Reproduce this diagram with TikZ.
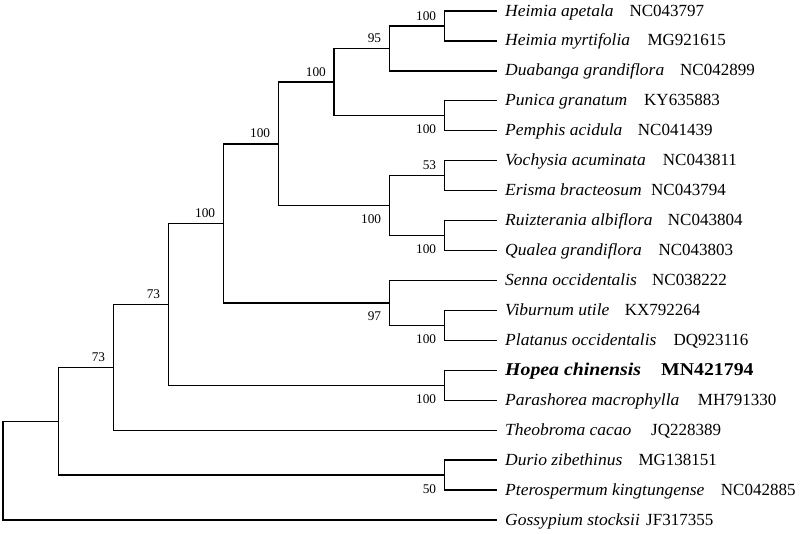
\documentclass[tikz,border=0pt]{standalone}
\usepackage{fontspec}
\setmainfont{Liberation Serif}
\newfontfamily\leafit{Liberation Serif}[FakeStretch=1.03]
\newfontfamily\hopeafont{Liberation Serif}[FakeStretch=1.1]
\begin{document}
\begin{tikzpicture}[x=1pt,y=-1pt,
  branch/.style={line width=1.3pt, line join=miter},
  leafname/.style={anchor=base west, inner sep=0pt, font=\fontsize{17}{17}\leafit\itshape},
  acc/.style={anchor=base west, inner sep=0pt, font=\fontsize{17}{17}\selectfont},
  bs/.style={anchor=base east, inner sep=0pt, font=\fontsize{13.3}{13.3}\selectfont}]
\useasboundingbox (0,0) rectangle (800,533);
% leaf tips
\coordinate (L0) at (497,11.0);
\coordinate (L1) at (497,40.9);
\coordinate (L2) at (497,70.9);
\coordinate (L3) at (497,100.8);
\coordinate (L4) at (497,130.8);
\coordinate (L5) at (497,160.7);
\coordinate (L6) at (497,190.6);
\coordinate (L7) at (497,220.6);
\coordinate (L8) at (497,250.5);
\coordinate (L9) at (497,280.5);
\coordinate (L10) at (497,310.4);
\coordinate (L11) at (497,340.3);
\coordinate (L12) at (497,370.3);
\coordinate (L13) at (497,400.2);
\coordinate (L14) at (497,430.2);
\coordinate (L15) at (497,460.1);
\coordinate (L16) at (497,490.0);
\coordinate (L17) at (497,520.0);
% internal nodes
\coordinate (hA) at (444.3,26.0);
\coordinate (n95) at (389.3,48.4);
\coordinate (pP) at (444.3,115.8);
\coordinate (n100a) at (334,82.1);
\coordinate (vE) at (444.3,175.7);
\coordinate (rQ) at (444.3,235.6);
\coordinate (vR) at (389.3,205.6);
\coordinate (n100b) at (278.3,143.9);
\coordinate (vP) at (444.3,325.4);
\coordinate (n97) at (389.3,302.9);
\coordinate (n100c) at (223.3,223.4);
\coordinate (hP) at (444.3,385.3);
\coordinate (n73a) at (168.3,304.3);
\coordinate (n73b) at (113.3,367.3);
\coordinate (dP) at (444.3,475.1);
\coordinate (n1) at (58.3,421.2);
\coordinate (root) at (3,470.6);
% branches
\draw[branch] (hA) |- (L0) (hA) |- (L1);
\draw[branch] (n95) |- (hA) (n95) |- (L2);
\draw[branch] (pP) |- (L3) (pP) |- (L4);
\draw[branch] (n100a) |- (n95) (n100a) |- (pP);
\draw[branch] (vE) |- (L5) (vE) |- (L6);
\draw[branch] (rQ) |- (L7) (rQ) |- (L8);
\draw[branch] (vR) |- (vE) (vR) |- (rQ);
\draw[branch] (n100b) |- (n100a) (n100b) |- (vR);
\draw[branch] (vP) |- (L10) (vP) |- (L11);
\draw[branch] (n97) |- (L9) (n97) |- (vP);
\draw[branch] (n100c) |- (n100b) (n100c) |- (n97);
\draw[branch] (hP) |- (L12) (hP) |- (L13);
\draw[branch] (n73a) |- (n100c) (n73a) |- (hP);
\draw[branch] (n73b) |- (n73a) (n73b) |- (L14);
\draw[branch] (dP) |- (L15) (dP) |- (L16);
\draw[branch] (n1) |- (n73b) (n1) |- (dP);
\draw[branch] (root) |- (n1) (root) |- (L17);
% bootstrap values
\node[bs] (b1) at (436.3,20.0) {100};
\node[bs] (b2) at (381.3,42.4) {95};
\node[bs] (b3) at (326,76.1) {100};
\node[bs] (b4) at (436.3,133.8) {100};
\node[bs] (b5) at (270.3,137.9) {100};
\node[bs] (b6) at (436.3,169.7) {53};
\node[bs] (b7) at (381.3,223.6) {100};
\node[bs] (b8) at (436.3,253.6) {100};
\node[bs] (b9) at (215.3,217.4) {100};
\node[bs] (b10) at (160.3,298.3) {73};
\node[bs] (b11) at (381.3,320.9) {97};
\node[bs] (b12) at (436.3,343.4) {100};
\node[bs] (b13) at (436.3,403.3) {100};
\node[bs] (b14) at (105.3,361.3) {73};
\node[bs] (b15) at (436.3,493.1) {50};
% leaf labels
\node[leafname] (t0) at (505,16.0) {Heimia apetala};
\node[acc] (a0) at (629.3,16.0) {NC043797};
\node[leafname] (t1) at (505,45.9) {Heimia myrtifolia};
\node[acc] (a1) at (647.3,45.9) {MG921615};
\node[leafname] (t2) at (505,75.9) {Duabanga grandiflora};
\node[acc] (a2) at (680,75.9) {NC042899};
\node[leafname] (t3) at (505,105.8) {Punica granatum};
\node[acc] (a3) at (644,105.8) {KY635883};
\node[leafname] (t4) at (505,135.8) {Pemphis acidula};
\node[acc] (a4) at (637.7,135.8) {NC041439};
\node[leafname] (t5) at (505,165.7) {Vochysia acuminata};
\node[acc] (a5) at (662.7,165.7) {NC043811};
\node[leafname] (t6) at (505,195.6) {Erisma bracteosum};
\node[acc] (a6) at (651,195.6) {NC043794};
\node[leafname] (t7) at (505,225.6) {Ruizterania albiflora};
\node[acc] (a7) at (667.7,225.6) {NC043804};
\node[leafname] (t8) at (505,255.5) {Qualea grandiflora};
\node[acc] (a8) at (658.3,255.5) {NC043803};
\node[leafname] (t9) at (505,285.5) {Senna occidentalis};
\node[acc] (a9) at (652,285.5) {NC038222};
\node[leafname] (t10) at (505,315.4) {Viburnum utile};
\node[acc] (a10) at (624.7,315.4) {KX792264};
\node[leafname] (t11) at (505,345.3) {Platanus occidentalis};
\node[acc] (a11) at (673.3,345.3) {DQ923116};
\node[leafname, font=\fontsize{18}{18}\hopeafont\bfseries\itshape] (t12) at (505,375.3) {Hopea chinensis};
\node[acc, font=\fontsize{18}{18}\hopeafont\bfseries] (a12) at (661,375.3) {MN421794};
\node[leafname] (t13) at (505,405.2) {Parashorea macrophylla};
\node[acc] (a13) at (697.7,405.2) {MH791330};
\node[leafname] (t14) at (505,435.2) {Theobroma cacao};
\node[acc] (a14) at (651,435.2) {JQ228389};
\node[leafname] (t15) at (505,465.1) {Durio zibethinus};
\node[acc] (a15) at (638.3,465.1) {MG138151};
\node[leafname] (t16) at (505,495.0) {Pterospermum kingtungense};
\node[acc] (a16) at (720.7,495.0) {NC042885};
\node[leafname] (t17) at (505,525.0) {Gossypium stocksii};
\node[acc] (a17) at (646,525.0) {JF317355};
\end{tikzpicture}
\end{document}
